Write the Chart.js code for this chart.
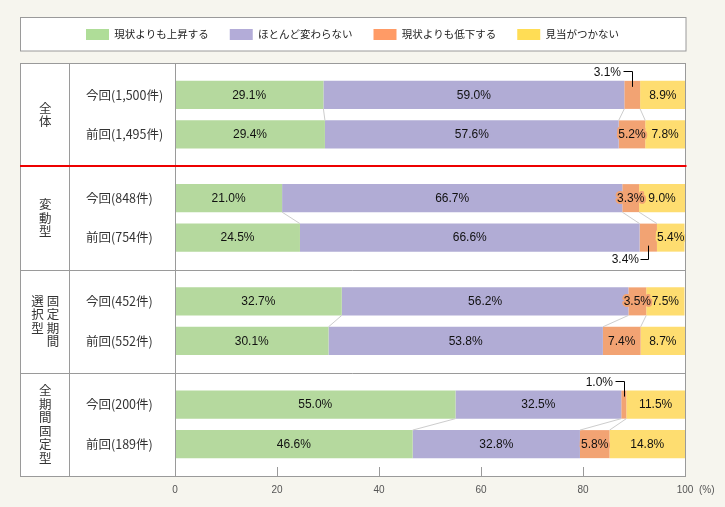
<!DOCTYPE html>
<html>
<head>
<meta charset="utf-8">
<script src="https://cdn.jsdelivr.net/npm/chart.js@4"></script>
<style>
  body { margin: 0; background: #f6f5ee; }
  #wrap { width: 725px; height: 507px; }
</style>
</head>
<body>
<div id="wrap"><canvas id="bar-chart"></canvas></div>
<script>
// groepen (\n = tweede kolom in verticale tekst)
const groups = ['全体', '変動型', '固定期間\n選択型', '全期間固定型'];
const nowCounts = ['1,500', '848', '452', '200'];
const prevCounts = ['1,495', '754', '552', '189'];
const seriesNames = ['現状よりも上昇する', 'ほとんど変わらない', '現状よりも低下する', '見当がつかない'];

const nowUp = [29.1, 21.0, 32.7, 55.0];
const nowSame = [59.0, 66.7, 56.2, 32.5];
const nowDown = [3.1, 3.3, 3.5, 1.0];
const nowUnknown = [8.9, 9.0, 7.5, 11.5];

const prevUp = [29.4, 24.5, 30.1, 46.6];
const prevSame = [57.6, 66.6, 53.8, 32.8];
const prevDown = [5.2, 3.4, 7.4, 5.8];
const prevUnknown = [7.8, 5.4, 8.7, 14.8];

const xTicks = [0, 20, 40, 60, 80, 100];

const barColors = ['#b5d99e', '#b1acd5', '#f2a373', '#fedd70'];
const legendColors = ['#afdd98', '#b3acd8', '#ff9b66', '#ffdd55'];

// labels die met een lijntje buiten de balk staan
const callouts = { '2-0': 'above', '6-1': 'below', '2-3': 'above' };

const nowSets = [nowUp, nowSame, nowDown, nowUnknown];
const prevSets = [prevUp, prevSame, prevDown, prevUnknown];

const datasets = [];
nowSets.forEach((d, k) => datasets.push({ label: seriesNames[k], data: d, stack: 'now', backgroundColor: barColors[k] }));
prevSets.forEach((d, k) => datasets.push({ label: seriesNames[k], data: d, stack: 'prev', backgroundColor: barColors[k] }));

const JP = "'Noto Sans CJK JP', 'Noto Sans', sans-serif";
Chart.defaults.font.family = JP;

const tablePlugin = {
  id: 'table',
  beforeInit(chart) {
    // ruimte tussen legenda en tabel
    const fit = chart.legend.fit;
    chart.legend.fit = function () {
      fit.bind(this)();
      this.height += 13;
    };
  },
  beforeDraw(chart) {
    const { ctx, chartArea: a } = chart;
    const L = chart.legend.left;
    ctx.save();
    ctx.fillStyle = '#fff';
    ctx.strokeStyle = '#9a9a9a';
    ctx.lineWidth = 1;
    ctx.fillRect(L + 0.5, 17.5, a.right - L + 0.5, 33.5);
    ctx.strokeRect(L + 0.5, 17.5, a.right - L + 0.5, 33.5);
    ctx.fillRect(L, a.top, a.right + 1 - L, a.bottom - a.top);
    ctx.restore();
  },
  afterDatasetsDraw(chart) {
    const { ctx } = chart;
    ctx.save();
    // verbindingslijntjes tussen de balken
    ctx.strokeStyle = '#cdcdcd';
    ctx.lineWidth = 1;
    for (let i = 0; i < groups.length; i++) {
      for (let k = 0; k < 3; k++) {
        const a = chart.getDatasetMeta(k).data[i];
        const b = chart.getDatasetMeta(k + 4).data[i];
        ctx.beginPath();
        ctx.moveTo(a.x, a.y + a.height / 2);
        ctx.lineTo(b.x, b.y - b.height / 2);
        ctx.stroke();
      }
    }
    // waarden
    ctx.font = "12px 'Liberation Sans', Arial, sans-serif";
    ctx.textBaseline = 'middle';
    ctx.lineJoin = 'round';
    chart.data.datasets.forEach((ds, di) => {
      chart.getDatasetMeta(di).data.forEach((el, i) => {
        const txt = ds.data[i].toFixed(1) + '%';
        const cx = (el.x + el.base) / 2;
        const side = callouts[di + '-' + i];
        if (side) {
          const bx = Math.round(cx) + 0.5;
          ctx.strokeStyle = '#000';
          ctx.lineWidth = 1;
          ctx.beginPath();
          if (side === 'above') {
            const t = el.y - el.height / 2;
            const ly = Math.round(t - 10) + 0.5;
            ctx.moveTo(bx, t + 6);
            ctx.lineTo(bx, ly);
            ctx.lineTo(bx - 9, ly);
            ctx.stroke();
            ctx.fillStyle = '#111';
            ctx.textAlign = 'right';
            ctx.fillText(txt, bx - 11.5, ly + 1.5);
          } else {
            const b = el.y + el.height / 2;
            const ly = Math.round(b + 7.5) + 0.5;
            ctx.moveTo(bx, b - 6);
            ctx.lineTo(bx, ly);
            ctx.lineTo(bx - 8, ly);
            ctx.stroke();
            ctx.fillStyle = '#111';
            ctx.textAlign = 'right';
            ctx.fillText(txt, bx - 9.5, ly);
          }
          return;
        }
        ctx.textAlign = 'center';
        ctx.strokeStyle = ds.backgroundColor;
        ctx.lineWidth = 4;
        ctx.strokeText(txt, cx, el.y + 0.5);
        ctx.fillStyle = '#111';
        ctx.fillText(txt, cx, el.y + 0.5);
      });
    });
    ctx.restore();
  },
  afterDraw(chart) {
    const { ctx, chartArea: a, scales: { x, y } } = chart;
    const L = chart.legend.left;
    const col1 = 69.5;
    ctx.save();
    // rij-labels
    ctx.fillStyle = '#333';
    ctx.font = '12.5px ' + JP;
    ctx.textBaseline = 'middle';
    ctx.textAlign = 'left';
    for (let i = 0; i < groups.length; i++) {
      const n = chart.getDatasetMeta(0).data[i];
      const p = chart.getDatasetMeta(4).data[i];
      ctx.fillText('今回(' + nowCounts[i] + '件)', 86, n.y);
      ctx.fillText('前回(' + prevCounts[i] + '件)', 86, p.y);
    }
    // groep-labels, verticaal
    ctx.textAlign = 'center';
    ctx.font = '12.5px ' + JP;
    const pitch = 13.5, colGap = 15.4;
    const cx = (L + col1) / 2 + 0.5;
    groups.forEach((g, i) => {
      const cols = g.split('\n');
      const maxLen = Math.max(...cols.map(c => c.length));
      const top = y.getPixelForValue(i) - maxLen * pitch / 2;
      cols.forEach((c, ci) => {
        const colX = cx + (cols.length - 1) / 2 * colGap - ci * colGap;
        [...c].forEach((ch, k) => ctx.fillText(ch, colX, top + pitch * (k + 0.5)));
      });
    });
    // tabel-lijnen
    ctx.strokeStyle = '#9a9a9a';
    ctx.lineWidth = 1;
    const R = a.right + 0.5;
    ctx.strokeRect(L + 0.5, Math.round(a.top) + 0.5, R - L - 0.5, Math.round(a.bottom - a.top));
    ctx.beginPath();
    ctx.moveTo(col1, a.top); ctx.lineTo(col1, a.bottom);
    ctx.moveTo(Math.round(a.left) + 0.5, a.top); ctx.lineTo(Math.round(a.left) + 0.5, a.bottom);
    for (let i = 2; i < groups.length; i++) {
      const sy = Math.round((y.getPixelForValue(i - 1) + y.getPixelForValue(i)) / 2) + 0.5;
      ctx.moveTo(L, sy); ctx.lineTo(R, sy);
    }
    // kleine streepjes onderaan
    xTicks.slice(1, -1).forEach(v => {
      const tx = Math.round(x.getPixelForValue(v)) + 0.5;
      ctx.moveTo(tx, a.bottom - 9); ctx.lineTo(tx, a.bottom);
    });
    ctx.stroke();
    // rode lijn na "全体"
    const ry = Math.round((y.getPixelForValue(0) + y.getPixelForValue(1)) / 2);
    ctx.strokeStyle = '#ee0000';
    ctx.lineWidth = 2;
    ctx.beginPath();
    ctx.moveTo(L, ry); ctx.lineTo(R + 1, ry);
    ctx.stroke();
    // (%)
    ctx.fillStyle = '#555';
    ctx.font = "10px 'Liberation Sans', Arial, sans-serif";
    ctx.textAlign = 'left';
    ctx.fillText('(%)', 699, a.bottom + 14);
    ctx.restore();
  }
};

new Chart(document.getElementById('bar-chart'), {
  type: 'bar',
  data: { labels: groups, datasets: datasets },
  plugins: [tablePlugin],
  options: {
    indexAxis: 'y',
    responsive: true,
    maintainAspectRatio: false,
    animation: false,
    categoryPercentage: 0.765,
    barPercentage: 0.71,
    layout: { padding: { left: 20, right: 40, top: 8, bottom: 3 } },
    scales: {
      x: {
        stacked: true,
        min: 0,
        max: 100,
        afterBuildTicks: s => { s.ticks = xTicks.map(v => ({ value: v })); },
        grid: { display: false, drawTicks: false },
        border: { display: false },
        ticks: {
          padding: 8,
          color: '#555',
          font: { size: 10, family: "'Liberation Sans', Arial, sans-serif" }
        }
      },
      y: {
        grid: { display: false, drawTicks: false },
        border: { display: false },
        ticks: { display: false },
        afterFit: s => { s.width = 155; }
      }
    },
    plugins: {
      legend: {
        position: 'top',
        labels: {
          boxWidth: 23,
          boxHeight: 11,
          padding: 21,
          color: '#222',
          font: { size: 10.5 },
          filter: item => item.datasetIndex < 4,
          generateLabels: chart => {
            const items = Chart.defaults.plugins.legend.labels.generateLabels(chart);
            items.forEach(it => {
              if (it.datasetIndex < 4) {
                it.fillStyle = legendColors[it.datasetIndex];
                it.strokeStyle = legendColors[it.datasetIndex];
                it.lineWidth = 0;
              }
            });
            return items;
          }
        }
      },
      tooltip: { enabled: false }
    }
  }
});
</script>
</body>
</html>
